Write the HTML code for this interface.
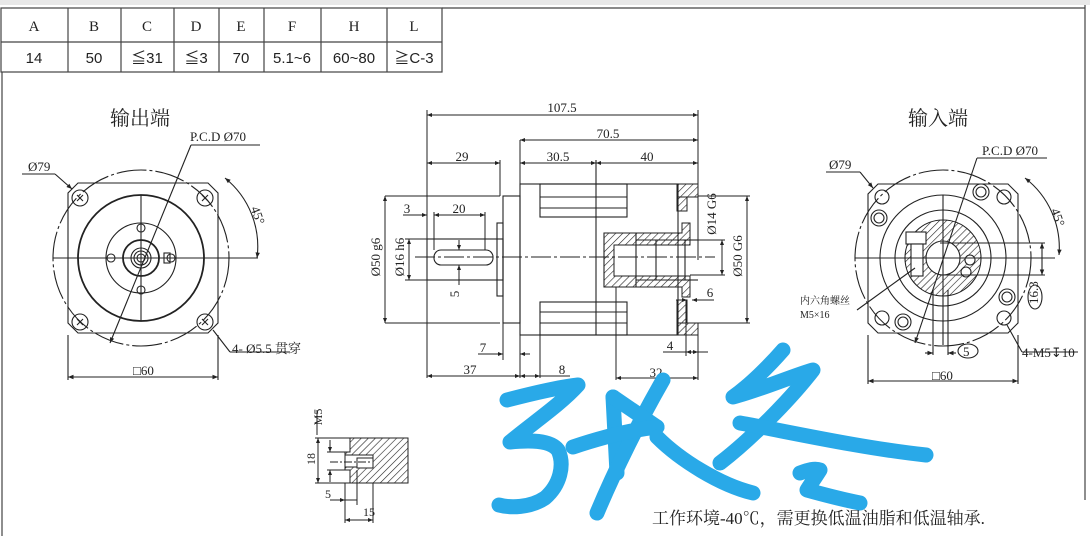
<!DOCTYPE html>
<html><head><meta charset="utf-8"><style>
html,body{margin:0;padding:0;background:#fff;}
svg{display:block;}
text{font-family:"Liberation Serif","Noto Serif CJK SC",serif;fill:#222;}
.s{font-family:"Liberation Sans","Noto Sans CJK SC",sans-serif;}
</style></head><body>
<svg width="1090" height="536" viewBox="0 0 1090 536" xmlns="http://www.w3.org/2000/svg">
<defs>
<pattern id="h" width="5" height="5" patternUnits="userSpaceOnUse" patternTransform="rotate(45)"><line x1="0" y1="0" x2="0" y2="5" stroke="#222" stroke-width="1.2"/></pattern>
<marker id="a" viewBox="0 0 10 10" refX="10" refY="5" markerWidth="7" markerHeight="5" orient="auto-start-reverse"><path d="M0,1 L10,5 L0,9z" fill="#222"/></marker>
</defs>
<rect x="0" y="0" width="1090" height="5" fill="#e8e8e8"/>
<g stroke="#444" stroke-width="1.2" fill="none">
<line x1="2" y1="72" x2="2" y2="536"/>
<line x1="1085" y1="5" x2="1085" y2="500"/>
<rect x="1" y="8" width="441" height="64"/>
<line x1="1" y1="42" x2="442" y2="42"/>
<line x1="68" y1="8" x2="68" y2="72"/><line x1="121" y1="8" x2="121" y2="72"/><line x1="174" y1="8" x2="174" y2="72"/><line x1="219" y1="8" x2="219" y2="72"/><line x1="264" y1="8" x2="264" y2="72"/><line x1="321" y1="8" x2="321" y2="72"/><line x1="387" y1="8" x2="387" y2="72"/>
<line x1="442" y1="8" x2="1085" y2="8"/>
</g>
<g font-size="15" text-anchor="middle">
<text x="34" y="31">A</text><text x="94" y="31">B</text><text x="147" y="31">C</text><text x="196" y="31">D</text><text x="241" y="31">E</text><text x="292" y="31">F</text><text x="354" y="31">H</text><text x="414" y="31">L</text>
</g>
<g font-size="15" text-anchor="middle" class="s">
<text class="s" x="34" y="63">14</text><text class="s" x="94" y="63">50</text><text class="s" x="147" y="63">≦31</text><text class="s" x="196" y="63">≦3</text><text class="s" x="241" y="63">70</text><text class="s" x="292" y="63">5.1~6</text><text class="s" x="354" y="63">60~80</text><text class="s" x="414" y="63">≧C-3</text>
</g>

<!-- LEFT VIEW -->
<text x="140" y="125" font-size="20" text-anchor="middle">输出端</text>
<g stroke="#222" stroke-width="1.1" fill="none">
<path d="M78,183 H208 L218,193 V323 L208,333 H78 L68,323 V193z"/>
<circle cx="141" cy="258" r="88" stroke-dasharray="30,3,3,3"/>
<circle cx="141" cy="258" r="63" stroke-width="1.8"/>
<circle cx="141" cy="258" r="35"/>
<circle cx="141" cy="258" r="18" stroke-width="1.8"/>
<circle cx="141" cy="258" r="10"/><circle cx="141" cy="258" r="7"/><circle cx="141" cy="258" r="4"/>
<rect x="164" y="253" width="6" height="10"/>
<circle cx="141" cy="228" r="4"/><circle cx="111" cy="258" r="4"/><circle cx="171" cy="258" r="4"/><circle cx="141" cy="290" r="4"/>
<circle cx="80" cy="198" r="8"/><circle cx="205" cy="198" r="8"/><circle cx="80" cy="322" r="8"/><circle cx="205" cy="322" r="8"/>
<path d="M77,195l6,6M83,195l-6,6M202,195l6,6M208,195l-6,6M77,319l6,6M83,319l-6,6M202,319l6,6M208,319l-6,6"/>
<line x1="141" y1="195" x2="141" y2="321"/><line x1="53" y1="258" x2="258" y2="258"/>
<line x1="191" y1="145" x2="110" y2="343" marker-end="url(#a)"/><line x1="191" y1="145" x2="260" y2="145"/>
<line x1="22" y1="174" x2="55" y2="174"/><line x1="55" y1="174" x2="72" y2="189" marker-end="url(#a)"/>
<path d="M225,178 A88,88 0 0 1 257,258" marker-start="url(#a)" marker-end="url(#a)"/>
<line x1="213" y1="330" x2="230" y2="352"/><line x1="230" y1="352" x2="290" y2="352"/>
<line x1="68" y1="335" x2="68" y2="380"/><line x1="218" y1="335" x2="218" y2="380"/>
<line x1="68" y1="377" x2="218" y2="377" marker-start="url(#a)" marker-end="url(#a)"/>
</g>
<g font-size="13"><text x="190" y="141">P.C.D  Ø70</text><text x="28" y="171">Ø79</text>
<text x="232" y="353">4- Ø5.5  贯穿</text><text x="133" y="375">□60</text>
<text x="248" y="212" transform="rotate(70 252 212)">45°</text></g>

<!-- MIDDLE VIEW -->
<g stroke="#222" stroke-width="1.1" fill="none">
<rect x="520" y="184" width="158" height="151"/>
<rect x="503" y="196" width="17" height="127"/>
<rect x="497" y="223" width="6" height="73"/>
<rect x="427" y="239" width="76" height="41"/>
<rect x="434" y="250" width="59" height="15" rx="7"/>
<rect x="540" y="184" width="87" height="33"/><line x1="540" y1="197" x2="627" y2="197"/><line x1="540" y1="208" x2="627" y2="208"/>
<rect x="540" y="302" width="87" height="33"/><line x1="540" y1="312" x2="627" y2="312"/><line x1="540" y1="323" x2="627" y2="323"/>
<line x1="596" y1="160" x2="596" y2="335"/>
<line x1="678" y1="197" x2="698" y2="197"/><line x1="678" y1="323" x2="698" y2="323"/>
<path d="M604,233 H636 V287 H604z"/><path d="M636,240 H685 V280 H636"/><line x1="656" y1="240" x2="656" y2="280"/>
<line x1="683" y1="240" x2="698" y2="240"/><line x1="683" y1="280" x2="698" y2="280"/>
</g>
<g fill="url(#h)" stroke="#222" stroke-width="1">
<rect x="677" y="184" width="21" height="13"/><rect x="677" y="197" width="10" height="14"/>
<rect x="677" y="323" width="21" height="12"/><rect x="677" y="300" width="10" height="23"/>
<path d="M604,233 H682 V223 H690 V245 H614 V276 H690 V297 H682 V287 H604z"/>
</g>
<g stroke="#222" stroke-width="1" fill="none">
<line x1="415" y1="257" x2="715" y2="257" stroke-dasharray="20,3,3,3"/>
<line x1="427" y1="110" x2="427" y2="378"/><line x1="698" y1="110" x2="698" y2="260"/>
<line x1="427" y1="115" x2="698" y2="115" marker-start="url(#a)" marker-end="url(#a)"/>
<line x1="520" y1="140" x2="520" y2="378"/>
<line x1="520" y1="140" x2="698" y2="140" marker-start="url(#a)" marker-end="url(#a)"/>
<line x1="520" y1="163" x2="596" y2="163" marker-start="url(#a)" marker-end="url(#a)"/>
<line x1="596" y1="163" x2="698" y2="163" marker-start="url(#a)" marker-end="url(#a)"/>
<line x1="427" y1="163" x2="500" y2="163" marker-start="url(#a)" marker-end="url(#a)"/><line x1="500" y1="160" x2="500" y2="196"/>
<line x1="385" y1="196" x2="500" y2="196"/><line x1="385" y1="323" x2="500" y2="323"/>
<line x1="385" y1="196" x2="385" y2="323" marker-start="url(#a)" marker-end="url(#a)"/>
<line x1="405" y1="239" x2="427" y2="239"/><line x1="405" y1="280" x2="427" y2="280"/>
<line x1="409" y1="239" x2="409" y2="280" marker-start="url(#a)" marker-end="url(#a)"/>
<line x1="403" y1="215" x2="427" y2="215" marker-end="url(#a)"/>
<line x1="434" y1="215" x2="485" y2="215" marker-start="url(#a)" marker-end="url(#a)"/><line x1="434" y1="212" x2="434" y2="250"/><line x1="485" y1="212" x2="485" y2="250"/>
<line x1="459" y1="240" x2="459" y2="250" marker-end="url(#a)"/><line x1="459" y1="285" x2="459" y2="265" marker-end="url(#a)"/>
<line x1="698" y1="196" x2="750" y2="196"/><line x1="698" y1="323" x2="750" y2="323"/>
<line x1="747" y1="196" x2="747" y2="323" marker-start="url(#a)" marker-end="url(#a)"/>
<line x1="690" y1="240" x2="725" y2="240"/><line x1="690" y1="275" x2="725" y2="275"/>
<line x1="722" y1="240" x2="722" y2="275" marker-start="url(#a)" marker-end="url(#a)"/>
<line x1="676" y1="300" x2="687" y2="300" marker-end="url(#a)"/><line x1="714" y1="300" x2="692" y2="300" marker-end="url(#a)"/>
<line x1="503" y1="323" x2="503" y2="360"/>
<line x1="478" y1="354" x2="503" y2="354" marker-end="url(#a)"/><line x1="530" y1="354" x2="520" y2="354" marker-end="url(#a)"/>
<line x1="540" y1="335" x2="540" y2="378"/>
<line x1="427" y1="376" x2="520" y2="376" marker-start="url(#a)" marker-end="url(#a)"/>
<line x1="520" y1="376" x2="540" y2="376" marker-start="url(#a)" marker-end="url(#a)"/><line x1="540" y1="376" x2="570" y2="376"/>
<line x1="616" y1="287" x2="616" y2="380"/><line x1="686" y1="300" x2="686" y2="356"/>
<line x1="616" y1="378" x2="698" y2="378" marker-start="url(#a)" marker-end="url(#a)"/><line x1="698" y1="335" x2="698" y2="380"/>
<line x1="663" y1="352" x2="686" y2="352"/><line x1="686" y1="352" x2="698" y2="352" marker-start="url(#a)" marker-end="url(#a)"/><line x1="698" y1="352" x2="708" y2="352"/>
</g>
<g font-size="13" text-anchor="middle">
<text x="562" y="112">107.5</text><text x="608" y="138">70.5</text><text x="558" y="161">30.5</text><text x="647" y="161">40</text><text x="462" y="161">29</text>
<text x="407" y="213">3</text><text x="459" y="213">20</text><text x="483" y="352">7</text><text x="470" y="374">37</text><text x="562" y="374">8</text>
<text x="656" y="377">32</text><text x="670" y="350">4</text><text x="710" y="297">6</text>
<text x="455" y="298" transform="rotate(-90 455 294)">5</text>
<text x="383" y="260" transform="rotate(-90 380 260)">Ø50 g6</text>
<text x="407" y="260" transform="rotate(-90 404 260)">Ø16 h6</text>
<text x="720" y="218" transform="rotate(-90 716 218)">Ø14 G6</text>
<text x="746" y="260" transform="rotate(-90 742 260)">Ø50 G6</text>
</g>

<!-- RIGHT VIEW -->
<text x="938" y="125" font-size="20" text-anchor="middle">输入端</text>
<g stroke="#222" stroke-width="1.1" fill="none">
<path d="M878,184 H1008 L1018,194 V323 L1008,333 H878 L868,323 V194z"/>
<circle cx="943" cy="258" r="88" stroke-dasharray="30,3,3,3"/>
<circle cx="943" cy="258" r="63"/>
<circle cx="943" cy="258" r="48"/>
<circle cx="943" cy="258" r="38" fill="url(#h)"/>
<circle cx="943" cy="258" r="17" fill="#fff"/>
<rect x="906" y="232" width="20" height="12" fill="#fff"/><rect x="911" y="244" width="12" height="32" fill="#fff"/>
<circle cx="970" cy="260" r="5" fill="#fff"/><circle cx="966" cy="272" r="5" fill="#fff"/>
<circle cx="882" cy="197" r="7"/><circle cx="1004" cy="197" r="7"/><circle cx="882" cy="318" r="7"/><circle cx="1004" cy="318" r="7"/>
<circle cx="879" cy="218" r="8"/><circle cx="879" cy="218" r="5"/><circle cx="981" cy="192" r="8"/><circle cx="981" cy="192" r="5"/>
<circle cx="1007" cy="297" r="8"/><circle cx="1007" cy="297" r="5"/><circle cx="903" cy="322" r="8"/><circle cx="903" cy="322" r="5"/>
<line x1="943" y1="195" x2="943" y2="345"/><line x1="855" y1="258" x2="1055" y2="258"/>
<line x1="940" y1="243" x2="1045" y2="243"/><line x1="940" y1="275" x2="1045" y2="275"/>
<line x1="1042" y1="243" x2="1042" y2="275" marker-start="url(#a)" marker-end="url(#a)"/>
<line x1="977" y1="158" x2="915" y2="343" marker-end="url(#a)"/><line x1="977" y1="158" x2="1047" y2="158"/>
<line x1="826" y1="172" x2="860" y2="172"/><line x1="860" y1="172" x2="873" y2="188" marker-end="url(#a)"/>
<path d="M1025,178 A88,88 0 0 1 1059,255" marker-start="url(#a)" marker-end="url(#a)"/>
<line x1="1007" y1="325" x2="1022" y2="352"/><line x1="1022" y1="352" x2="1078" y2="352"/>
<line x1="857" y1="310" x2="915" y2="268"/>
<line x1="933" y1="290" x2="933" y2="355"/><line x1="948" y1="290" x2="948" y2="355"/>
<line x1="925" y1="353" x2="933" y2="353" marker-end="url(#a)"/><line x1="956" y1="353" x2="948" y2="353" marker-end="url(#a)"/>
<line x1="868" y1="335" x2="868" y2="384"/><line x1="1018" y1="335" x2="1018" y2="384"/>
<line x1="868" y1="381" x2="1018" y2="381" marker-start="url(#a)" marker-end="url(#a)"/>
<ellipse cx="968" cy="351" rx="10" ry="7"/><ellipse cx="1035" cy="297" rx="7" ry="12"/>
</g>
<g font-size="13"><text x="982" y="155">P.C.D  Ø70</text><text x="829" y="169">Ø79</text>
<text x="1022" y="357">4-M5↧10</text><text x="932" y="380">□60</text><text x="963" y="356">5</text>
<text x="1028" y="300" transform="rotate(-90 1035 297)">16.3</text>
<text x="1048" y="214" transform="rotate(70 1052 214)">45°</text>
<text x="800" y="304" font-size="10">内六角螺丝</text><text x="800" y="318" font-size="10">M5×16</text></g>

<!-- small section -->
<g stroke="#222" stroke-width="1" fill="none">
<path d="M350,438 H408 V483 H350 V470 H345 V452 H350z" fill="url(#h)"/>
<rect x="345" y="455" width="28" height="12" fill="#fff"/><rect x="357" y="458" width="16" height="10" fill="#fff"/>
<line x1="330" y1="462" x2="372" y2="462" stroke-dasharray="8,2,2,2"/>
<line x1="315" y1="438" x2="350" y2="438"/><line x1="315" y1="483" x2="350" y2="483"/>
<line x1="318" y1="438" x2="318" y2="483" marker-start="url(#a)" marker-end="url(#a)"/>
<line x1="317" y1="410" x2="317" y2="435"/><line x1="327" y1="452" x2="345" y2="452"/><line x1="327" y1="470" x2="345" y2="470"/>
<line x1="330" y1="440" x2="330" y2="452" marker-end="url(#a)"/><line x1="330" y1="482" x2="330" y2="470" marker-end="url(#a)"/>
<line x1="330" y1="500" x2="345" y2="500" marker-end="url(#a)"/><line x1="345" y1="500" x2="357" y2="500"/>
<line x1="345" y1="483" x2="345" y2="523"/><line x1="357" y1="470" x2="357" y2="505"/><line x1="373" y1="483" x2="373" y2="523"/>
<line x1="345" y1="520" x2="373" y2="520" marker-start="url(#a)" marker-end="url(#a)"/>
</g>
<g font-size="12" text-anchor="middle"><text x="315" y="465" transform="rotate(-90 312 462)">18</text>
<text x="325" y="420" transform="rotate(-90 322 420)">M5</text><text x="328" y="498">5</text><text x="369" y="516">15</text></g>

<text x="652" y="524" font-size="17">工作环境-40℃，需更换低温油脂和低温轴承.</text>

<!-- watermark -->
<g stroke="#29a9e8" stroke-width="15" fill="none" stroke-linecap="round" stroke-linejoin="round">
<path d="M507,400 C530,394 560,387 578,385 C560,405 530,425 510,442 C530,440 550,440 558,450 C565,465 560,485 545,498 C530,508 510,508 499,505"/>
<path d="M613,397 L617,473"/>
<path d="M663,380 C640,420 615,470 597,513"/>
<path d="M613,397 L657,427"/>
<path d="M573,447 C600,438 630,430 657,427"/>
<path d="M657,437 C680,460 720,485 753,493"/>
<path d="M783,350 C770,365 750,385 733,397 C760,390 795,375 813,370 C790,400 750,440 720,463"/>
<path d="M740,423 C780,430 860,448 926,455"/>
<path d="M800,473 C808,470 815,468 820,470 C815,478 810,485 807,490 C825,495 845,500 860,503"/>
</g>
</svg>
</body></html>
